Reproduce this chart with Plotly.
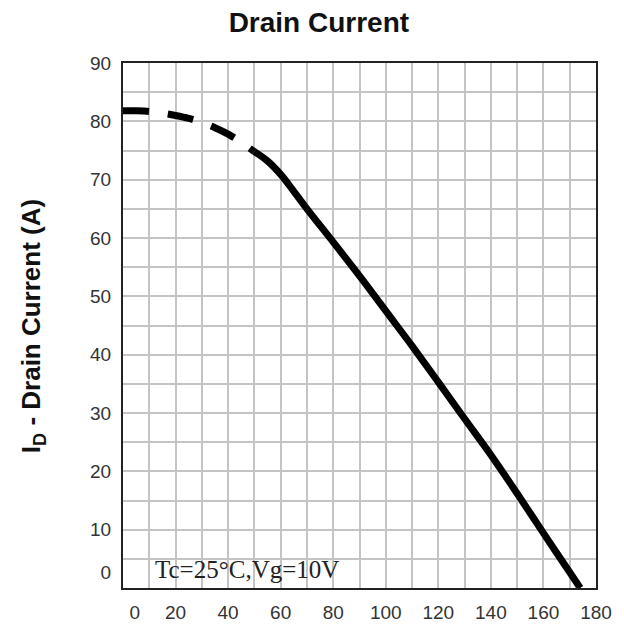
import plotly.graph_objects as go

# Case temperature (deg C) vs. maximum continuous drain current (A)
temp_dashed = [0, 5, 10, 15, 20, 25, 30, 35, 40, 45, 50]
current_dashed = [81.8, 81.8, 81.7, 81.4, 81.0, 80.5, 79.8, 78.9, 77.8, 76.4, 74.8]

temp_solid = [50, 55, 60, 65, 70, 80, 90, 100, 110, 120, 130, 140, 150, 160, 170, 174]
current_solid = [74.8, 73.2, 70.9, 68.0, 65.0, 59.3, 53.5, 47.5, 41.5, 35.3, 29.0, 22.8,
                 16.2, 9.4, 2.7, 0.0]

# Axis tick labels; the zero labels sit slightly inside the corner
x_tick_pos = [4.5, 20, 40, 60, 80, 100, 120, 140, 160, 180]
x_tick_text = ["0", "20", "40", "60", "80", "100", "120", "140", "160", "180"]
y_tick_pos = [2.6, 10, 20, 30, 40, 50, 60, 70, 80, 90]
y_tick_text = ["0", "10", "20", "30", "40", "50", "60", "70", "80", "90"]

condition_text = "Tc=25°C,Vg=10V"

fig = go.Figure()
fig.add_trace(go.Scatter(
    x=temp_dashed, y=current_dashed, mode="lines",
    line=dict(color="black", width=7, dash="26px,19px", shape="spline"),
    showlegend=False, hoverinfo="skip",
))
fig.add_trace(go.Scatter(
    x=temp_solid, y=current_solid, mode="lines",
    line=dict(color="black", width=7, shape="spline"),
    showlegend=False, hoverinfo="skip",
))

grid_style = dict(showgrid=True, gridcolor="#c4c4c4", gridwidth=1.5)
tick_font = dict(family="Liberation Sans, Arial, sans-serif", size=19, color="#333333")

fig.update_xaxes(
    range=[0, 180], tickmode="array", tickvals=x_tick_pos, ticktext=x_tick_text,
    showgrid=False, minor=dict(tick0=0, dtick=10, **grid_style),
    showline=True, linecolor="#222222", linewidth=2, mirror=True,
    ticks="", ticklabelstandoff=6, tickfont=tick_font, zeroline=False,
)
fig.update_yaxes(
    range=[0, 90], tickmode="array", tickvals=y_tick_pos, ticktext=y_tick_text,
    showgrid=False, minor=dict(tick0=0, dtick=5, **grid_style),
    showline=True, linecolor="#222222", linewidth=2, mirror=True,
    ticks="", ticklabelstandoff=6, tickfont=tick_font, zeroline=False,
)

fig.add_annotation(
    x=11.5, y=3.2, xref="x", yref="y", xanchor="left", yanchor="middle",
    text=condition_text, showarrow=False,
    font=dict(family="Liberation Serif, Times New Roman, serif", size=25, color="#222222"),
)
fig.add_annotation(
    x=-0.191, y=0.498, xref="paper", yref="paper", xanchor="center", yanchor="middle",
    text="I<sub>D</sub> - Drain Current (A)", textangle=-90, showarrow=False,
    font=dict(family="Liberation Sans, Arial, sans-serif", size=26, color="#111111", weight="bold"),
)

fig.update_layout(
    width=624, height=635,
    margin=dict(l=123, r=26, t=63, b=34),
    paper_bgcolor="white", plot_bgcolor="white",
    title=dict(
        text="Drain Current", x=0.511, xanchor="center", y=1 - 22 / 635, yanchor="middle",
        xref="container", yref="container",
        font=dict(family="Liberation Sans, Arial, sans-serif", size=28, color="#111111", weight="bold"),
    ),
)

fig.write_html("out.html")
